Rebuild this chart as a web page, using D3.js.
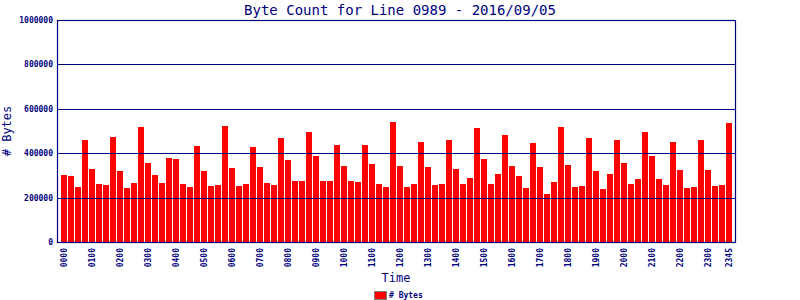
<!DOCTYPE html>
<html>
<head>
<meta charset="utf-8">
<script src="https://cdnjs.cloudflare.com/ajax/libs/d3/7.8.5/d3.min.js"></script>
<style>
  body { margin: 0; background: #fff; }
  svg { display: block; }
  text { font-family: "DejaVu Sans Mono", monospace; fill: #000080; }
</style>
</head>
<body>
<div id="chart"></div>
<script>
// 15 minute slots, 0000 .. 2345
var times = [];
for (var h = 0; h < 24; h++) {
  ["00", "15", "30", "45"].forEach(function(m) {
    times.push((h < 10 ? "0" : "") + h + m);
  });
}

var bytes = [
  302000, 298000, 249000, 460000, 330000, 262000, 258000, 473000,
  321000, 244000, 267000, 518000, 357000, 303000, 267000, 379000,
  374000, 262000, 249000, 433000, 321000, 253000, 258000, 523000,
  334000, 253000, 262000, 428000, 339000, 267000, 258000, 469000,
  370000, 276000, 276000, 496000, 388000, 276000, 276000, 437000,
  343000, 276000, 271000, 437000, 352000, 262000, 249000, 541000,
  343000, 249000, 262000, 451000, 339000, 258000, 262000, 460000,
  330000, 262000, 289000, 514000, 374000, 262000, 307000, 482000,
  343000, 298000, 244000, 446000, 339000, 217000, 271000, 518000,
  348000, 249000, 253000, 469000, 321000, 240000, 307000, 460000,
  357000, 262000, 285000, 496000, 388000, 285000, 258000, 451000,
  325000, 244000, 249000, 460000, 325000, 253000, 258000, 536000
];

var yTicks = [0, 200000, 400000, 600000, 800000, 1000000];
var xTicks = times.filter(function(t, i) { return i % 4 === 0; }).concat(["2345"]);

var title = "Byte Count for Line 0989 - 2016/09/05";
var navy = "#000080";

var W = 800, H = 300;
var plotL = 57, plotR = 735, plotT = 20, plotB = 242;

var svg = d3.select("#chart").append("svg")
  .attr("width", W).attr("height", H);

var x = d3.scaleBand()
  .domain(times)
  .range([plotL + 3.5, plotL + 3.5 + times.length * 7])
  .paddingInner(1 / 7)
  .paddingOuter(1 / 14);

var y = d3.scaleLinear().domain([0, 1000000]).range([plotB, plotT]);

// bars
svg.append("g").selectAll("rect")
  .data(bytes)
  .enter().append("rect")
  .attr("x", function(d, i) { return x(times[i]); })
  .attr("width", x.bandwidth())
  .attr("y", function(d) { return y(d); })
  .attr("height", function(d) { return y(0) - y(d); })
  .attr("fill", "#ff0000")
  .attr("shape-rendering", "crispEdges");

// grid lines over the bars
svg.append("g").selectAll("line")
  .data(yTicks.slice(1))
  .enter().append("line")
  .attr("x1", plotL).attr("x2", plotR)
  .attr("y1", function(d) { return Math.round(y(d)) + 0.5; })
  .attr("y2", function(d) { return Math.round(y(d)) + 0.5; })
  .attr("stroke", navy).attr("stroke-width", 1);

// frame
svg.append("rect")
  .attr("x", plotL + 0.5).attr("y", plotT + 0.5)
  .attr("width", plotR - plotL).attr("height", plotB - plotT)
  .attr("fill", "none").attr("stroke", navy).attr("stroke-width", 1.2);

// y axis
var yAxis = d3.axisLeft(y).tickValues(yTicks).tickSize(0).tickPadding(4)
  .tickFormat(d3.format("d"));
var gy = svg.append("g").attr("transform", "translate(" + plotL + ",0)").call(yAxis);
gy.select(".domain").remove();
gy.selectAll("text")
  .style("font-size", "8px").style("font-weight", "bold").attr("fill", navy);

// x axis
var xAxis = d3.axisBottom(x).tickValues(xTicks).tickSize(0).tickPadding(0);
var gx = svg.append("g").attr("transform", "translate(0," + plotB + ")").call(xAxis);
gx.select(".domain").remove();
gx.selectAll("text")
  .style("font-size", "8px").style("font-weight", "bold").attr("fill", navy)
  .attr("transform", "rotate(-90)")
  .attr("text-anchor", "end")
  .attr("x", -6).attr("y", 0).attr("dy", "0.35em");

// titles
svg.append("text")
  .attr("x", 400).attr("y", 15)
  .attr("text-anchor", "middle")
  .style("font-size", "14px")
  .text(title);

svg.append("text")
  .attr("transform", "translate(11," + ((plotT + plotB) / 2) + ") rotate(-90)")
  .attr("text-anchor", "middle")
  .style("font-size", "12px")
  .text("# Bytes");

svg.append("text")
  .attr("x", (plotL + plotR) / 2).attr("y", 282)
  .attr("text-anchor", "middle")
  .style("font-size", "12px")
  .text("Time");

// legend
svg.append("rect")
  .attr("x", 374.5).attr("y", 291.5).attr("width", 12).attr("height", 8)
  .attr("fill", "#ff0000").attr("stroke", "#808080").attr("stroke-width", 1);
svg.append("text")
  .attr("x", 389).attr("y", 298)
  .style("font-size", "8px").style("font-weight", "bold")
  .text("# Bytes");
</script>
</body>
</html>
